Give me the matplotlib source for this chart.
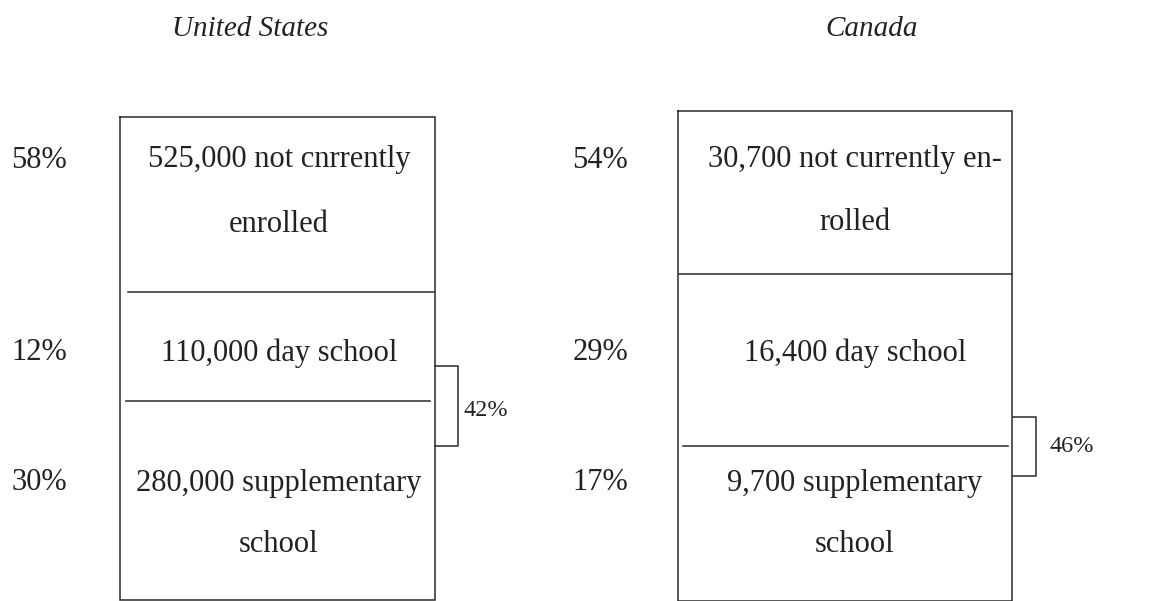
import matplotlib
matplotlib.use("Agg")
import matplotlib.pyplot as plt

# ---- data ----
countries = ["United States", "Canada"]
us_percents = ["58%", "12%", "30%"]
us_labels = [["525,000 not cnrrently", "enrolled"],
             ["110,000 day school"],
             ["280,000 supplementary", "school"]]
us_total = "42%"
ca_percents = ["54%", "29%", "17%"]
ca_labels = [["30,700 not currently en-", "rolled"],
             ["16,400 day school"],
             ["9,700 supplementary", "school"]]
ca_total = "46%"

# ---- layout (pixel space) ----
W, H = 1152, 601
fig = plt.figure(figsize=(W / 100, H / 100), dpi=100)
ax = fig.add_axes([0, 0, 1, 1])
ax.set_xlim(0, W)
ax.set_ylim(H, 0)
ax.axis("off")

serif = ["Liberation Serif", "DejaVu Serif"]
lc = "#2a2a2a"
tc = "#222222"
lw = 1.1

panels = [
    dict(title=countries[0], tx=250, box=(120, 435, 117, 600),
         divs=[(292, 128, 434), (401, 126, 430)],
         pct=us_percents, pct_x=67, pct_y=[160, 353, 482],
         labels=us_labels, lab_x=279,
         lab_y=[[159, 224], [353], [484, 545]],
         total=us_total, br=(435, 458, 366, 446), tot_xy=(463, 411),
         tot_fs=17.5),
    dict(title=countries[1], tx=872, box=(678, 1012, 111, 601),
         divs=[(274, 679, 1012), (446, 683, 1008)],
         pct=ca_percents, pct_x=628, pct_y=[160, 353, 482],
         labels=ca_labels, lab_x=855,
         lab_y=[[160, 222], [353], [483, 545]],
         total=ca_total, br=(1013, 1036, 417, 476), tot_xy=(1049, 447),
         tot_fs=17.5),
]

for p in panels:
    ax.text(p["tx"], 29, p["title"], family=serif, style="italic",
            fontsize=21, color=tc, ha="center", va="center")
    x0, x1, y0, y1 = p["box"]
    ax.plot([x0, x1, x1, x0, x0], [y0, y0, y1, y1, y0], color=lc, lw=lw,
            solid_joinstyle="miter")
    for (y, a, b) in p["divs"]:
        ax.plot([a, b], [y, y], color=lc, lw=lw)
    for s, y in zip(p["pct"], p["pct_y"]):
        ax.text(p["pct_x"], y, s, family=serif, fontsize=22, color=tc,
                ha="right", va="center")
    for lines, ys in zip(p["labels"], p["lab_y"]):
        for s, y in zip(lines, ys):
            ax.text(p["lab_x"], y, s, family=serif, fontsize=22, color=tc,
                    ha="center", va="center")
    bx0, bx1, by0, by1 = p["br"]
    ax.plot([bx0, bx1, bx1, bx0], [by0, by0, by1, by1], color=lc, lw=lw)
    ax.text(p["tot_xy"][0], p["tot_xy"][1], p["total"], family=serif,
            fontsize=p["tot_fs"], color=tc, ha="left", va="center")

fig.savefig("out.png", dpi=100, facecolor="white")
